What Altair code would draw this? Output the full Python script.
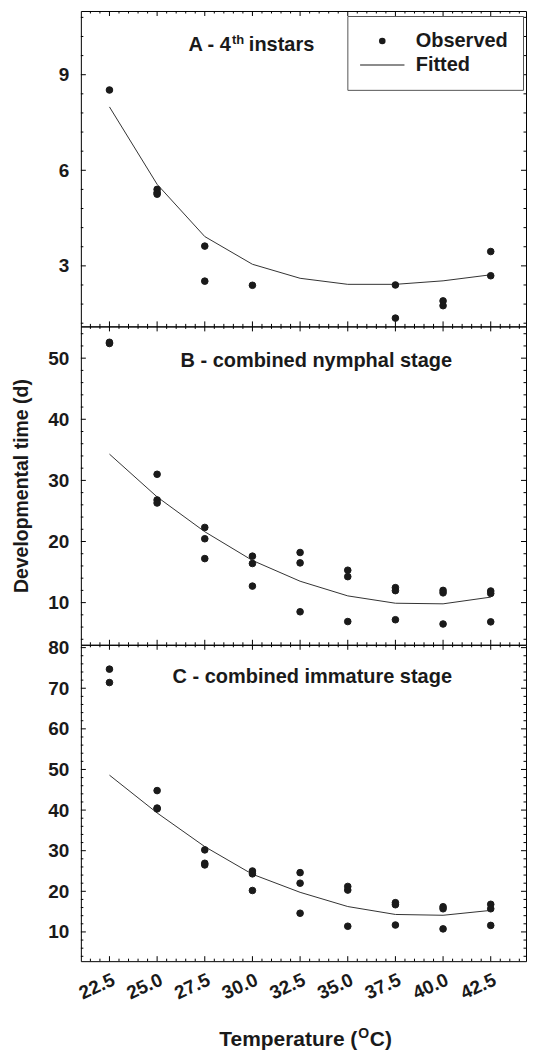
import altair as alt
import pandas as pd
import numpy as np

FONT = "Liberation Sans"
INK = "#1a1a1a"
LINE_INK = "#333333"

# ---------------- data ----------------
TEMPS = [22.5, 25.0, 27.5, 30.0, 32.5, 35.0, 37.5, 40.0, 42.5]

A_OBS_T = [22.5, 25.0, 25.0, 25.0, 27.5, 27.5, 30.0, 37.5, 37.5, 40.0, 40.0, 42.5, 42.5]
A_OBS_Y = [8.52, 5.40, 5.30, 5.25, 3.62, 2.52, 2.39, 2.40, 1.36, 1.90, 1.75, 3.45, 2.69]
A_FIT = [7.99, 5.56, 3.92, 3.05, 2.61, 2.42, 2.42, 2.53, 2.72]

BC_OBS_T = [22.5, 22.5, 25.0, 25.0, 25.0, 27.5, 27.5, 27.5, 30.0, 30.0, 30.0,
            32.5, 32.5, 32.5, 35.0, 35.0, 35.0, 37.5, 37.5, 37.5, 40.0, 40.0, 40.0,
            42.5, 42.5, 42.5]
B_OBS_Y = [52.6, 52.4, 31.0, 26.8, 26.3, 22.3, 20.45, 17.2, 17.6, 16.4, 12.7,
           18.2, 16.5, 8.5, 15.3, 14.25, 6.9, 12.45, 11.96, 7.2, 12.0, 11.6, 6.5,
           11.9, 11.5, 6.85]
B_FIT = [34.3, 27.3, 21.6, 16.9, 13.5, 11.1, 9.9, 9.8, 10.9]

C_OBS_Y = [74.7, 71.4, 44.8, 40.5, 40.3, 30.2, 26.9, 26.5, 25.0, 24.3, 20.2,
           24.6, 22.0, 14.6, 21.2, 20.3, 11.4, 17.2, 16.7, 11.7, 16.2, 15.7, 10.75,
           16.8, 15.7, 11.6]
C_FIT = [48.6, 39.3, 31.0, 24.2, 19.75, 16.25, 14.3, 14.1, 15.3]

SERIES = ["Observed", "Fitted"]

# axes
X_DOMAIN = [21.0, 44.35]
A_DOMAIN = [1.1, 11.0]
B_DOMAIN = [3.1, 55.2]
C_DOMAIN = [2.8, 80.7]
X_MAJOR = TEMPS
A_Y_MAJOR = [3, 6, 9]
B_Y_MAJOR = [10, 20, 30, 40, 50]
C_Y_MAJOR = [10, 20, 30, 40, 50, 60, 70, 80]


def minor(start, stop, step, majors):
    vals = np.round(np.arange(start, stop + 1e-9, step), 2)
    return [float(v) for v in vals if not any(abs(v - m) < 1e-6 for m in majors)]


X_MINOR = minor(21.5, 44.0, 0.5, X_MAJOR)
A_Y_MINOR = minor(1.2, 10.8, 0.6, A_Y_MAJOR)
B_Y_MINOR = minor(4, 54, 2, B_Y_MAJOR)
C_Y_MINOR = minor(4, 80, 2, C_Y_MAJOR)

W = 446
HA, HB, HC = 316, 319, 317
MAJOR_LEN, MINOR_LEN = 5, 2.5   # inward tick lengths

# legend "line" symbol drawn as a thin filled bar (unit box is scaled by sqrt(size)/2)
LINE_PATH = "M-6.7,-0.15H6.7V0.15H-6.7Z"


def panel(obs_y, obs_t, fit, ydomain, ymajor, yminor, H, texts,
          legend=None, ytitle=None, xlabels=False, extra=None):
    xs = alt.Scale(domain=X_DOMAIN, nice=False, zero=False)
    ys = alt.Scale(domain=ydomain, nice=False, zero=False)
    yaxis = alt.Axis(values=ymajor, ticks=False, tickSize=0, domain=False, grid=False,
                     labelPadding=12, title=ytitle if ytitle else None,
                     titlePadding=16)
    if xlabels:
        xaxis = alt.Axis(values=X_MAJOR, format=".1f", labelAngle=335, ticks=False,
                         tickSize=0, domain=False, grid=False, labelPadding=9,
                         title=None, labelFlush=False, labelOverlap=False)
    else:
        xaxis = None
    X = lambda f: alt.X(f, scale=xs, axis=xaxis)
    Y = lambda f: alt.Y(f, scale=ys, axis=yaxis)

    obs = pd.DataFrame({"t": obs_t, "y": obs_y, "series": ["Observed"] * len(obs_y)})
    fitdf = pd.DataFrame({"t": TEMPS, "y": fit})

    pts = alt.Chart(obs).mark_point(filled=True, size=44, fill=INK, stroke=INK,
                                    strokeWidth=1, opacity=1).encode(
        x=X("t:Q"), y=Y("y:Q"),
        shape=alt.Shape("series:N",
                        scale=alt.Scale(domain=SERIES, range=["circle", LINE_PATH]),
                        legend=legend),
    )
    line = alt.Chart(fitdf).mark_line(color=LINE_INK, strokeWidth=1).encode(
        x=X("t:Q"), y=Y("y:Q"))

    layers = [line, pts]
    rule = dict(color="black", strokeWidth=1)
    for vals, L in ((ymajor, MAJOR_LEN), (yminor, MINOR_LEN)):
        df = pd.DataFrame({"v": vals})
        layers.append(alt.Chart(df).mark_rule(**rule).encode(
            y=Y("v:Q"), x=alt.value(0), x2=alt.value(L)))
        layers.append(alt.Chart(df).mark_rule(**rule).encode(
            y=Y("v:Q"), x=alt.value(W), x2=alt.value(W - L)))
    for vals, L in ((X_MAJOR, MAJOR_LEN), (X_MINOR, MINOR_LEN)):
        df = pd.DataFrame({"v": vals})
        layers.append(alt.Chart(df).mark_rule(**rule).encode(
            x=X("v:Q"), y=alt.value(0), y2=alt.value(L)))
        layers.append(alt.Chart(df).mark_rule(**rule).encode(
            x=X("v:Q"), y=alt.value(H), y2=alt.value(H - L)))

    for t in texts:
        df = pd.DataFrame({"t": [t["x"]], "y": [t["y"]], "label": [t["text"]]})
        layers.append(
            alt.Chart(df).mark_text(
                font=FONT, fontWeight="bold", fontSize=t.get("size", 20), color=INK,
                align=t.get("align", "center"), baseline="alphabetic",
                dx=t.get("dx", 0), dy=t.get("dy", 0),
            ).encode(x=X("t:Q"), y=Y("y:Q"), text="label:N")
        )
    if extra:
        layers.extend(extra)
    return alt.layer(*layers).properties(width=W, height=H)


legendA = alt.Legend(
    orient="none", legendX=267, legendY=5, title=None,
    strokeColor="#555555", fillColor="white", padding=15,
    labelFont=FONT, labelFontSize=20, labelFontWeight="bold", labelColor=INK,
    labelOffset=23.5, symbolOffset=10, rowPadding=4,
    symbolStrokeColor=INK, symbolFillColor=INK, symbolStrokeWidth=1, symbolSize=44,
)

A_TEXTS = [
    {"x": 28.87, "y": 9.75, "text": "A - 4", "align": "right"},
    {"x": 28.87, "y": 9.75, "text": "th", "align": "left", "size": 13, "dx": 1, "dy": -7},
    {"x": 28.87, "y": 9.75, "text": "instars", "align": "left", "dx": 18},
]
B_TEXTS = [{"x": 33.35, "y": 48.6, "text": "B - combined nymphal stage"}]
C_TEXTS = [{"x": 33.14, "y": 71.4, "text": "C - combined immature stage"}]

# x-axis title with superscript, placed below panel C
xt_style = dict(font=FONT, fontWeight="bold", color=INK, baseline="alphabetic")
xt_df = pd.DataFrame({"k": [0]})
XT_ANCHOR = W / 2 + 54
XT_Y = HC + 85
xtitle = [
    alt.Chart(xt_df).mark_text(fontSize=21, align="right", **xt_style).encode(
        x=alt.value(XT_ANCHOR), y=alt.value(XT_Y), text=alt.value("Temperature (")),
    alt.Chart(xt_df).mark_text(fontSize=14, align="left", dx=1, dy=-8, **xt_style).encode(
        x=alt.value(XT_ANCHOR), y=alt.value(XT_Y), text=alt.value("O")),
    alt.Chart(xt_df).mark_text(fontSize=21, align="left", dx=12.5, **xt_style).encode(
        x=alt.value(XT_ANCHOR), y=alt.value(XT_Y), text=alt.value("C)")),
]

pA = panel(A_OBS_Y, A_OBS_T, A_FIT, A_DOMAIN, A_Y_MAJOR, A_Y_MINOR, HA, A_TEXTS,
           legend=legendA)
pB = panel(B_OBS_Y, BC_OBS_T, B_FIT, B_DOMAIN, B_Y_MAJOR, B_Y_MINOR, HB, B_TEXTS,
           ytitle="Developmental time (d)")
pC = panel(C_OBS_Y, BC_OBS_T, C_FIT, C_DOMAIN, C_Y_MAJOR, C_Y_MINOR, HC, C_TEXTS,
           xlabels=True, extra=xtitle)

chart = (
    alt.vconcat(pA, pB, pC, spacing=0, bounds="flush")
    .resolve_scale(x="independent", y="independent", shape="independent")
    .resolve_legend(shape="independent")
    .properties(padding={"left": 3, "top": 1, "right": 0, "bottom": 0}, background="white")
    .configure_view(stroke="black", strokeWidth=1)
    .configure_axis(
        labelFont=FONT, labelFontSize=19, labelFontWeight="bold", labelColor=INK,
        titleFont=FONT, titleFontSize=19.5, titleFontWeight="bold", titleColor=INK,
    )
)

chart.save("out.html", embed_options={"renderer": "svg", "actions": False})
